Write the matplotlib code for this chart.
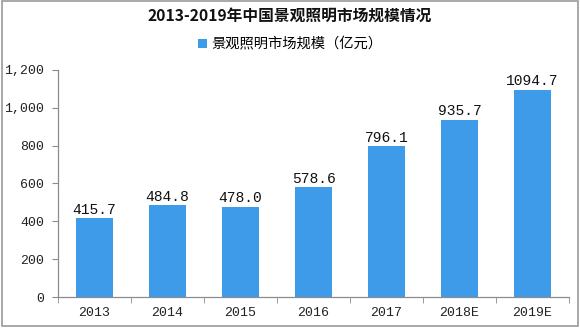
import matplotlib
matplotlib.use("Agg")
import matplotlib.pyplot as plt
from matplotlib.patches import Rectangle

plt.rcParams['font.family'] = ['Noto Sans CJK SC', 'DejaVu Sans']

years = ["2013", "2014", "2015", "2016", "2017", "2018E", "2019E"]
market_size = [415.7, 484.8, 478.0, 578.6, 796.1, 935.7, 1094.7]
y_ticks = [0, 200, 400, 600, 800, 1000, 1200]
y_tick_labels = ["0", "200", "400", "600", "800", "1,000", "1,200"]

title = "2013-2019年中国景观照明市场规模情况"
series_name = "景观照明市场规模（亿元）"

bar_color = "#3d9be9"
axis_color = "#8c8c8c"
num_font = ["Liberation Mono", "DejaVu Sans Mono"]

fig = plt.figure(figsize=(5.8, 3.28), dpi=100)
ax = fig.add_axes([0.1, 0.0945, 0.881, 0.6925])

x = list(range(len(years)))
ax.bar(x, market_size, width=0.52, color=bar_color, label=series_name, zorder=2)

for xi, v in zip(x, market_size):
    ax.text(xi, v + 8, f"{v:.1f}", ha="center", va="bottom", fontsize=10.5,
            family=num_font, color="#111111")

ax.set_xlim(-0.5, len(years) - 0.5)
ax.set_ylim(0, 1200)
ax.set_yticks(y_ticks)
ax.set_yticklabels(y_tick_labels, fontsize=9.5, family=num_font, color="#222222")
ax.set_xticks(x)
ax.set_xticklabels(years, fontsize=9.5, family=num_font, color="#222222")
ax.tick_params(axis="x", length=0, pad=7)
ax.set_xticks([i + 0.5 for i in range(-1, len(years))], minor=True)
ax.tick_params(axis="x", which="minor", length=4, color=axis_color, direction="out")
ax.tick_params(axis="y", length=4, color=axis_color, direction="out", pad=6)

for side in ("top", "right"):
    ax.spines[side].set_visible(False)
for side in ("left", "bottom"):
    ax.spines[side].set_color(axis_color)
    ax.spines[side].set_linewidth(0.9)

fig.text(0.5, 0.952, title, ha="center", va="center", fontsize=11.3, fontweight="bold", color="#111111")
ax.legend(loc="center", bbox_to_anchor=(0.5, 0.865), bbox_transform=fig.transFigure,
          frameon=False, fontsize=10.3, handlelength=0.6, handleheight=0.6, handletextpad=0.3)

fig.patches.append(Rectangle((0.004, 0.006), 0.992, 0.99, transform=fig.transFigure,
                             fill=False, edgecolor="#9a9a9a", linewidth=1.2))

fig.savefig("out.png", dpi=100, facecolor="white")
